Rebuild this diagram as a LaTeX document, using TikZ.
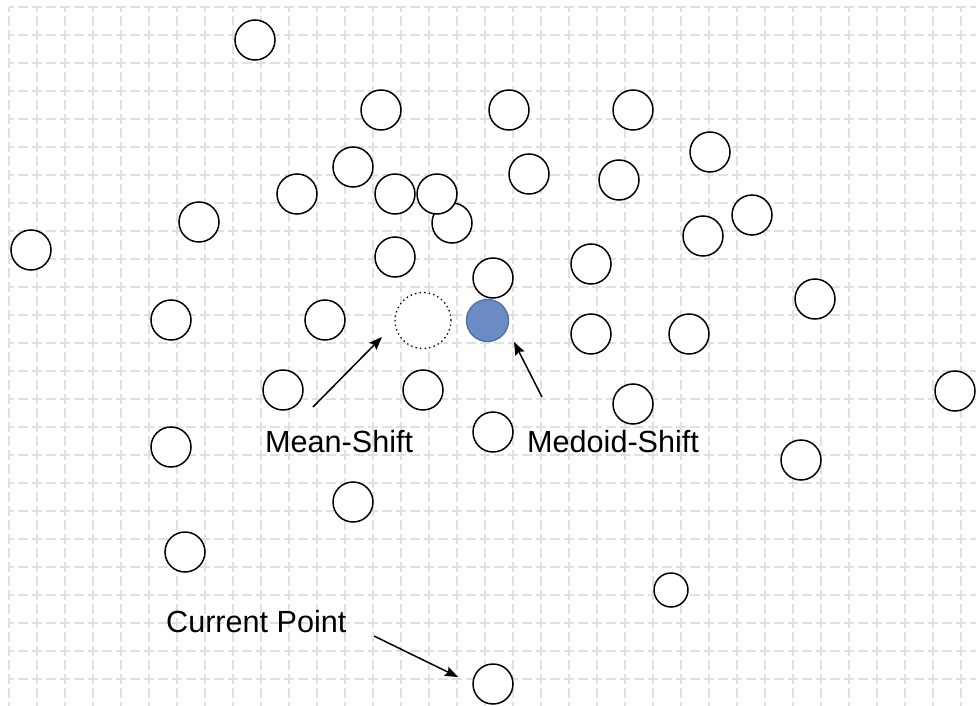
\documentclass[tikz,border=0pt]{standalone}
\usepackage{fontspec}
\setmainfont{Liberation Sans}
\usetikzlibrary{arrows.meta}
\definecolor{gridc}{HTML}{E0E0E0}
\definecolor{medfill}{HTML}{6A8BC4}
\definecolor{meddraw}{HTML}{4F6EA6}
\begin{document}
\begin{tikzpicture}[x=1bp,y=-1bp,
  gridline/.style={draw=gridc,line width=1.2bp,dash pattern=on 10bp off 4bp,dash phase=5bp},
  pt/.style={circle,draw=black,line width=1.5bp,minimum size=40bp,inner sep=0pt,fill=white},
  smallpt/.style={pt,minimum size=34bp},
  meanpt/.style={circle,draw=black,line width=1.3bp,dash pattern=on 1.4bp off 3.2bp,minimum size=56bp,inner sep=0pt,fill=white},
  medpt/.style={circle,draw=meddraw,line width=1.3bp,fill=medfill,minimum size=42bp,inner sep=0pt},
  lbl/.style={anchor=base west,inner sep=0pt,font=\fontsize{30.6bp}{36bp}\selectfont},
  arr/.style={-{Stealth[length=13bp,width=10bp,inset=2bp]},line width=1.5bp,draw=black}]
\useasboundingbox (0,0) rectangle (976,706);
\fill[white] (0,0) rectangle (976,706);
% grid
\foreach \i in {0,...,34} \draw[gridline] (9+28*\i,7) -- (9+28*\i,706);
\foreach \j in {0,...,24} \draw[gridline] (9,7+28*\j) -- (976,7+28*\j);
% data points
\node[pt] (p1) at (255,40) {};
\node[pt] (p2) at (381,110) {};
\node[pt] (p3) at (509,110) {};
\node[pt] (p4) at (633,110) {};
\node[pt] (p5) at (710,152) {};
\node[pt] (p6) at (353,167) {};
\node[pt] (p7) at (529,174) {};
\node[pt] (p8) at (619,180) {};
\node[pt] (p9) at (297,194) {};
\node[pt] (p10) at (395,194) {};
\node[pt] (p12) at (452,223) {};
\node[pt] (p11) at (437,194) {};
\node[pt] (p13) at (199,222) {};
\node[pt] (p14) at (752,215) {};
\node[pt] (p15) at (703,236) {};
\node[pt] (p16) at (31,250) {};
\node[pt] (p17) at (395,257) {};
\node[pt] (p18) at (493,278) {};
\node[pt] (p19) at (591,264) {};
\node[pt] (p20) at (815,299) {};
\node[pt] (p21) at (171,320) {};
\node[pt] (p22) at (325,320) {};
\node[meanpt] (mean) at (423,320.5) {};
\node[medpt] (medoid) at (487.5,320.5) {};
\node[pt] (p25) at (591,334) {};
\node[pt] (p26) at (689,334) {};
\node[pt] (p27) at (283,390) {};
\node[pt] (p28) at (423,390) {};
\node[pt] (p29) at (955,391) {};
\node[pt] (p30) at (633,404) {};
\node[pt] (p31) at (493,432) {};
\node[pt] (p32) at (171,447) {};
\node[pt] (p33) at (801,460) {};
\node[pt] (p34) at (353,502) {};
\node[pt] (p35) at (185,552) {};
\node[smallpt] (p36) at (671,590) {};
\node[pt] (cur) at (493,684) {};
% labels
\node[lbl] (lmean) at (265,452) {Mean-Shift};
\node[lbl] (lmed) at (527,452) {Medoid-Shift};
\node[lbl] (lcur) at (166,632) {Current Point};
% arrows
\coordinate (a1s) at (313,407);
\coordinate (a1e) at (382,337);
\coordinate (a2s) at (542,397);
\coordinate (a2e) at (514,342);
\coordinate (a3s) at (374,636);
\coordinate (a3e) at (458,677);
\draw[arr] (a1s) -- (a1e);
\draw[arr] (a2s) -- (a2e);
\draw[arr] (a3s) -- (a3e);
\end{tikzpicture}
\end{document}
